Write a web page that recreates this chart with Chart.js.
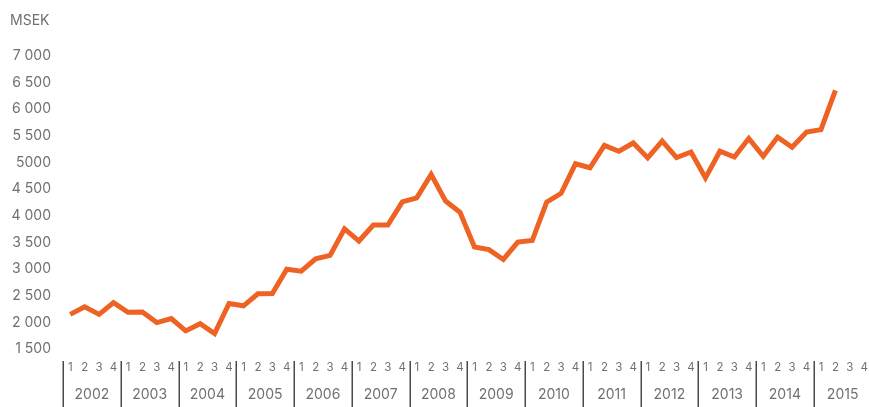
<!DOCTYPE html>
<html>
<head>
<meta charset="utf-8">
<script src="https://cdn.jsdelivr.net/npm/chart.js@4/dist/chart.umd.min.js"></script>
<style>
  html, body { margin: 0; padding: 0; background: #ffffff; overflow: hidden; }
  #wrap { width: 869px; height: 407px; overflow: hidden; }
  canvas { display: block; }
</style>
</head>
<body>
<div id="wrap"><canvas id="c" width="880" height="407"></canvas></div>
<script>
// ---- data ----
const years = ["2002","2003","2004","2005","2006","2007","2008","2009","2010","2011","2012","2013","2014","2015"];
const quarters = ["1","2","3","4"];
// Quarterly values, MSEK (2002 Q1 .. 2015 Q2)
const values2002 = [2150, 2290, 2150, 2370];
const values2003 = [2190, 2195, 1995, 2070];
const values2004 = [1840, 1975, 1790, 2355];
const values2005 = [2310, 2535, 2540, 2995];
const values2006 = [2960, 3190, 3255, 3755];
const values2007 = [3525, 3825, 3825, 4260];
const values2008 = [4335, 4775, 4275, 4065];
const values2009 = [3415, 3365, 3180, 3505];
const values2010 = [3535, 4255, 4420, 4975];
const values2011 = [4900, 5320, 5210, 5365];
const values2012 = [5085, 5400, 5090, 5195];
const values2013 = [4710, 5210, 5100, 5450];
const values2014 = [5115, 5475, 5285, 5570];
const values2015 = [5615, 6350, null, null];
const yTickLabels = {1500:"1 500",2000:"2 000",2500:"2 500",3000:"3 000",3500:"3 500",4000:"4 000",4500:"4 500",5000:"5000",5500:"5 500",6000:"6 000",6500:"6 500",7000:"7 000"};
const unitLabel = "MSEK";

const quarterLabels = years.flatMap(() => quarters);
const series = [].concat(values2002, values2003, values2004, values2005, values2006, values2007,
  values2008, values2009, values2010, values2011, values2012, values2013, values2014, values2015);

const FONT = "Inter, 'Noto Sans', sans-serif";
const GREY = "#707070";

const yearSeparators = {
  id: "yearSeparators",
  afterDraw(chart) {
    const xs = chart.scales.x;
    const half = (xs.getPixelForValue(1) - xs.getPixelForValue(0)) / 2;
    const ctx = chart.ctx;
    ctx.save();
    ctx.strokeStyle = "#4a4a4a";
    ctx.lineWidth = 1.5;
    for (let i = 0; i <= years.length; i++) {
      const x = Math.round(xs.getPixelForValue(i * 4) - half) + 0.25;
      ctx.beginPath();
      ctx.moveTo(x, xs.top + 12);
      ctx.lineTo(x, chart.height);
      ctx.stroke();
    }
    ctx.restore();
  }
};

new Chart(document.getElementById("c"), {
  type: "line",
  data: {
    labels: quarterLabels,
    datasets: [{
      data: series,
      borderColor: "#EE6224",
      borderWidth: 5,
      pointRadius: 0,
      tension: 0,
      spanGaps: false
    }]
  },
  options: {
    responsive: false,
    animation: false,
    devicePixelRatio: 1,
    layout: { padding: { left: 10, right: 0, top: 0, bottom: 0 } },
    plugins: {
      legend: { display: false },
      tooltip: { enabled: false },
      title: {
        display: true,
        text: unitLabel,
        align: "start",
        color: GREY,
        font: { family: FONT, size: 14, weight: "normal" },
        padding: { top: 12, bottom: 27 }
      }
    },
    scales: {
      x: {
        type: "category",
        offset: true,
        grid: { display: false, drawTicks: false },
        border: { display: false },
        ticks: {
          autoSkip: false, maxRotation: 0, minRotation: 0,
          color: GREY, padding: 12,
          font: { family: FONT, size: 11.5 }
        },
        afterFit(s) { s.height = 30; }
      },
      years: {
        type: "category",
        position: "bottom",
        labels: years,
        offset: true,
        grid: { display: false, drawTicks: false },
        border: { display: false },
        ticks: {
          autoSkip: false, maxRotation: 0, minRotation: 0,
          color: GREY, padding: 7,
          font: { family: FONT, size: 14 }
        },
        afterFit(s) { s.height = 28; }
      },
      y: {
        min: 1500, max: 7000,
        grid: { display: false, drawTicks: false },
        border: { display: false },
        ticks: {
          stepSize: 500,
          color: GREY, padding: 12,
          font: { family: FONT, size: 14 },
          callback: (v) => yTickLabels[v] ?? ""
        },
        afterFit(s) { s.width = 53; }
      }
    }
  },
  plugins: [yearSeparators]
});
</script>
</body>
</html>
